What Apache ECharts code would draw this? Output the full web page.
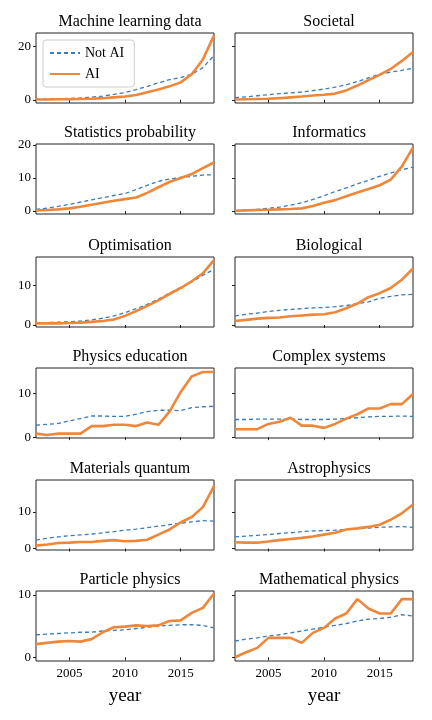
<!DOCTYPE html>
<html><head><meta charset="utf-8">
<script src="https://cdn.jsdelivr.net/npm/echarts@6/dist/echarts.min.js"></script>
<style>html,body{margin:0;padding:0;background:#fff}#c{width:432px;height:720px}</style>
</head><body><div id="c"></div>
<script>
const years = [2002,2003,2004,2005,2006,2007,2008,2009,2010,2011,2012,2013,2014,2015,2016,2017,2018];
const titles = ["Machine learning data","Societal","Statistics probability","Informatics","Optimisation","Biological","Physics education","Complex systems","Materials quantum","Astrophysics","Particle physics","Mathematical physics"];
const notAI = [
 [0.2,0.3,0.4,0.5,0.7,1.0,1.4,2.0,2.7,3.8,5.0,6.3,7.5,8.3,9.5,12,16.5],
 [0.8,1.1,1.5,1.9,2.3,2.6,2.9,3.4,4.0,4.7,5.6,6.8,8.2,9.5,10.3,11.0,11.7],
 [0.5,0.9,1.4,2.0,2.7,3.4,4.0,4.7,5.3,6.5,7.8,9.0,9.7,10.2,10.5,10.9,11],
 [0.1,0.3,0.5,0.8,1.2,1.8,2.5,3.5,4.6,5.9,7.0,8.2,9.3,10.5,11.5,12.5,13.3],
 [0.5,0.6,0.7,0.8,1.0,1.3,1.7,2.3,3.1,4.1,5.2,6.5,8.0,9.5,10.8,12.5,14],
 [2.3,2.7,3.0,3.4,3.7,3.9,4.1,4.3,4.4,4.6,4.9,5.4,5.8,6.7,7.2,7.6,7.7],
 [2.7,2.9,3.1,3.7,4.2,4.8,4.8,4.7,4.7,5.2,5.8,6.1,6.1,6.0,6.7,6.9,7.0],
 [4.0,4.0,4.1,4.1,4.1,4.1,4.0,4.0,4.0,4.1,4.2,4.4,4.6,4.7,4.7,4.8,4.7],
 [2.3,2.8,3.2,3.5,3.7,3.9,4.3,4.6,5.0,5.3,5.7,6.1,6.5,6.9,7.3,7.6,7.5],
 [3.2,3.4,3.6,3.8,4.1,4.3,4.6,4.8,4.9,5.0,5.2,5.4,5.6,5.8,5.9,6.0,5.8],
 [3.6,3.7,3.8,3.9,4.0,4.0,4.2,4.3,4.4,4.6,4.8,5.0,5.1,5.2,5.2,5.1,4.7],
 [2.6,2.9,3.1,3.4,3.6,3.9,4.2,4.5,4.8,5.1,5.4,5.8,6.1,6.2,6.4,6.8,6.6]
];
const ai = [
 [0.1,0.1,0.2,0.2,0.3,0.4,0.6,0.9,1.2,1.8,2.8,3.8,5,6.5,9.5,15,24],
 [0.1,0.2,0.3,0.4,0.6,0.9,1.2,1.6,1.9,2.3,3.5,5.3,7.3,9.3,11.5,14.5,17.8],
 [0.2,0.3,0.5,0.8,1.3,1.9,2.5,3.1,3.6,4.1,5.5,7.2,8.8,10.0,11.2,13.0,14.7],
 [0.1,0.2,0.3,0.4,0.5,0.6,0.8,1.5,2.5,3.3,4.5,5.6,6.7,7.8,9.5,13.5,19.2],
 [0.4,0.4,0.4,0.5,0.6,0.8,1.0,1.4,2.3,3.5,4.8,6.2,7.8,9.3,11,13,16.3],
 [1.0,1.3,1.6,1.8,1.9,2.2,2.4,2.6,2.7,3.2,4.2,5.4,7.0,8.0,9.3,11.4,14.2],
 [0.8,0.5,0.8,0.8,0.8,2.5,2.5,2.8,2.8,2.5,3.3,2.8,5.8,10.2,13.8,14.8,14.8],
 [1.8,1.8,1.8,3.0,3.5,4.4,2.6,2.6,2.1,3.0,4.2,5.2,6.5,6.5,7.5,7.5,9.8],
 [0.8,1.1,1.5,1.6,1.8,1.8,2.1,2.3,2.0,2.1,2.4,3.8,5.2,7.1,8.6,11.3,17],
 [1.7,1.6,1.6,1.9,2.3,2.6,2.9,3.3,3.8,4.3,5.2,5.5,5.9,6.5,7.9,9.6,12],
 [2.1,2.3,2.5,2.6,2.5,2.9,4.0,4.8,4.9,5.1,5.0,5.1,5.8,5.9,7.1,7.9,10.2],
 [0,0.8,1.5,3.1,3.1,3.1,2.3,3.9,4.7,6.2,7.0,9.3,7.8,7.0,7.0,9.3,9.3]
];
const rowMin = [-1.2,-0.9,-0.5,-0.2,-0.4,-0.6];
const rowMax = [24.9,20.3,17.1,15.7,18.7,10.6];
const rowTicks = [[0,20],[0,10,20],[0,10],[0,10],[0,10],[0,10]];
const xTicks = [2005,2010,2015];
const xLabel = "year";

const F = "Liberation Serif";
const rowTop = [33,144,257,368,480,591];
const colLeft = [36,235];
const W = 178, H = 70;
const grid=[],xAxis=[],yAxis=[],series=[],title=[];
for(let i=0;i<12;i++){
  const r=Math.floor(i/2), c=i%2;
  grid.push({left:colLeft[c],top:rowTop[r],width:W,height:H,show:true,borderColor:'#222',borderWidth:1,backgroundColor:'transparent'});
  title.push({text:titles[i],left:colLeft[c]+W/2,top:rowTop[r]-24,textAlign:'center',textStyle:{fontFamily:F,fontSize:16,fontWeight:'normal',color:'#000'}});
  const bottom = r===5;
  xAxis.push({type:'value',gridIndex:i,min:2002,max:2018,splitLine:{show:false},
    axisLine:{show:false},
    axisTick:{show:true,customValues:xTicks,length:3,lineStyle:{color:'#222'}},
    axisLabel:{show:bottom,customValues:xTicks,formatter:v=>String(v),fontFamily:F,fontSize:13,color:'#000',margin:6},
    name:bottom?xLabel:'',nameLocation:'middle',nameGap:26,nameTextStyle:{fontFamily:F,fontSize:19,color:'#000'}});
  yAxis.push({type:'value',gridIndex:i,min:rowMin[r],max:rowMax[r],splitLine:{show:false},
    axisLine:{show:false},
    axisTick:{show:true,customValues:rowTicks[r],length:3,lineStyle:{color:'#222'}},
    axisLabel:{show:c===0,customValues:rowTicks[r],fontFamily:F,fontSize:13,color:'#000',margin:5}});
  series.push({type:'line',name:'Not AI',xAxisIndex:i,yAxisIndex:i,data:years.map((y,k)=>[y,notAI[i][k]]),symbol:'none',lineStyle:{color:'#3a7abf',width:1.3,type:[4,3]},itemStyle:{color:'#3a7abf'},z:2,silent:true});
  series.push({type:'line',name:'AI',xAxisIndex:i,yAxisIndex:i,data:years.map((y,k)=>[y,ai[i][k]]),symbol:'none',lineStyle:{color:'#ef8638',width:2.6},itemStyle:{color:'#ef8638'},z:3,silent:true});
}
const chart=echarts.init(document.getElementById('c'),null,{renderer:'canvas'});
chart.setOption({animation:false,grid,xAxis,yAxis,series,title,
  legend:{data:['Not AI','AI'],orient:'vertical',left:43,top:40,itemWidth:30,itemHeight:12,itemGap:7,padding:[6,10,6,6],
    itemStyle:{opacity:0},
    borderColor:'#ccc',borderWidth:1,borderRadius:3,backgroundColor:'#fff',textStyle:{fontFamily:F,fontSize:14,color:'#000'}}
});
</script></body></html>
